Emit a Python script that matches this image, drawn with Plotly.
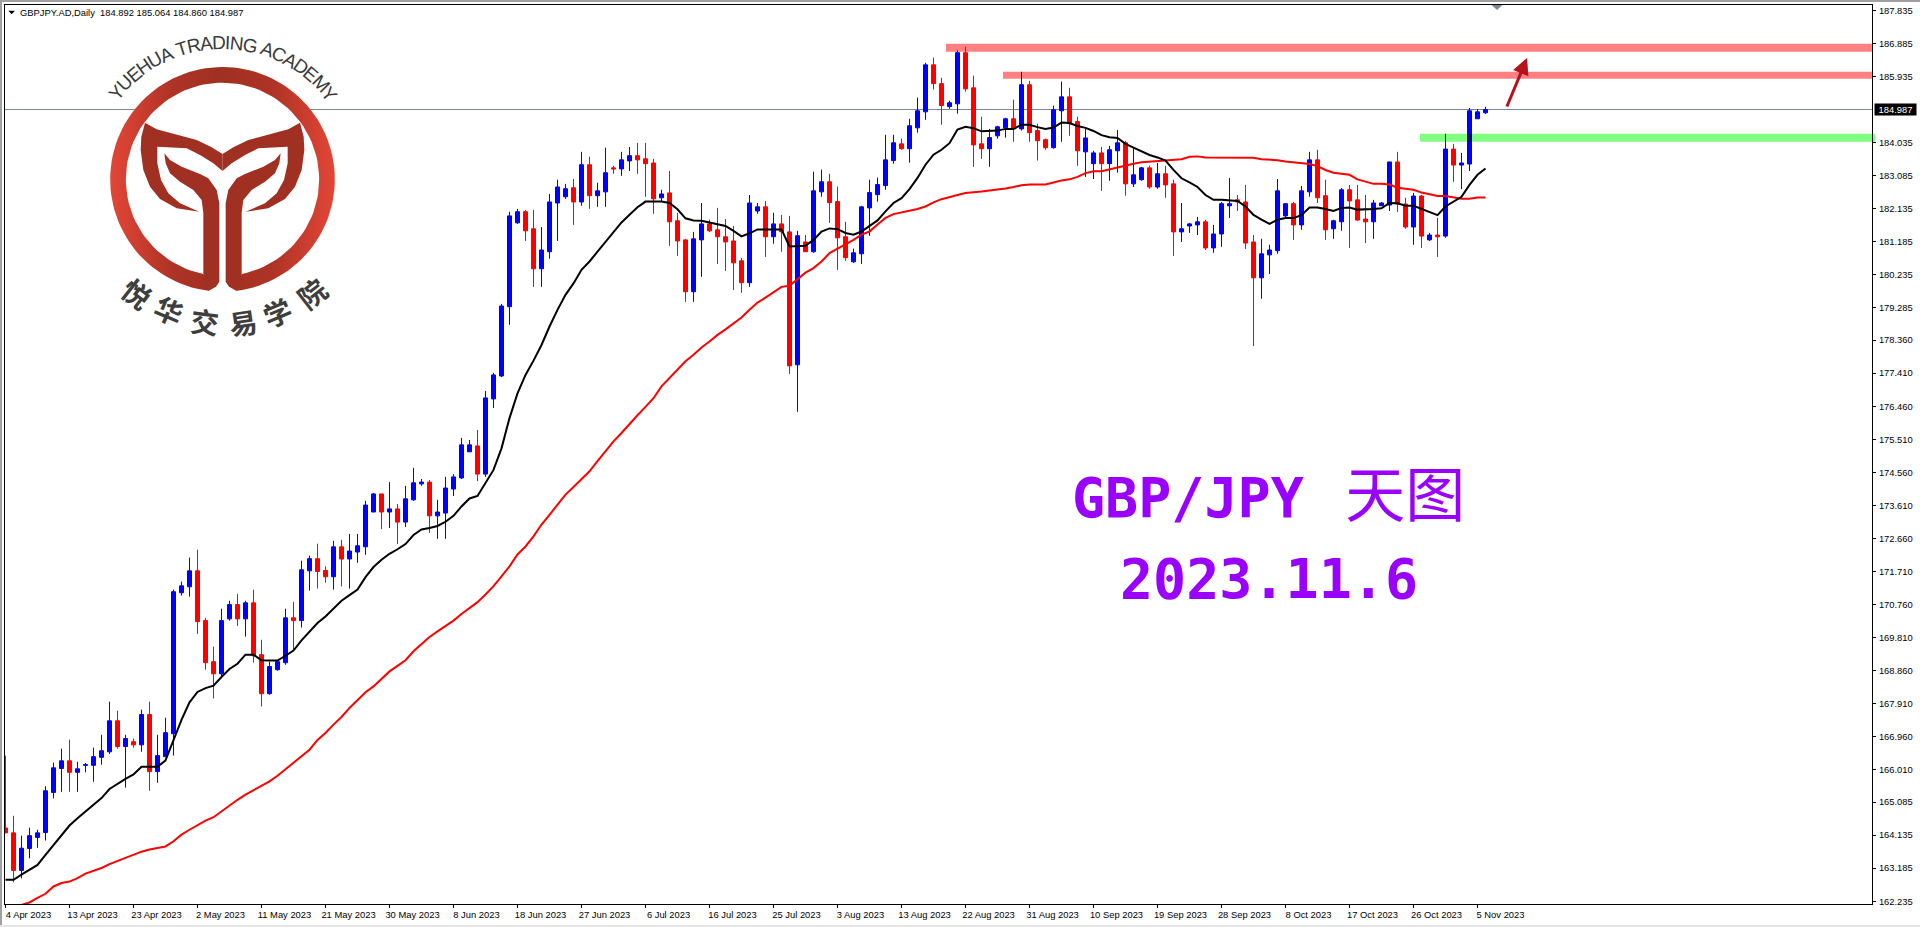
import math
import plotly.graph_objects as go

# ---------- chart data ----------
opens = [164.34,164.20,163.12,163.75,164.07,164.21,165.36,166.05,166.27,165.94,
166.14,166.14,166.37,166.53,167.42,166.68,166.82,166.73,167.60,165.96,
166.39,167.05,171.10,171.27,171.73,170.30,169.12,168.77,170.35,170.76,
170.35,170.81,169.32,168.20,168.89,169.09,170.38,170.30,171.73,172.08,
171.74,171.56,172.42,172.07,172.27,172.42,173.42,173.94,173.42,173.51,
173.13,173.77,174.23,174.28,173.31,173.39,174.08,174.40,175.15,175.32,
174.51,176.67,177.33,179.32,181.73,182.05,181.56,180.41,180.90,182.30,
182.48,182.74,182.33,183.40,182.51,182.62,183.31,183.28,183.51,183.66,
183.57,183.45,182.45,182.59,181.79,181.24,179.75,181.24,181.70,181.53,
181.33,181.21,180.64,180.01,182.07,182.19,181.33,181.70,181.47,177.65,
181.18,180.90,182.62,182.91,182.34,181.33,180.61,180.84,182.16,182.54,
182.80,183.52,184.00,183.86,184.46,184.92,186.27,185.73,185.07,185.15,
186.62,185.61,184.00,183.86,184.23,184.46,184.72,184.43,185.70,184.38,
184.12,183.89,184.95,185.35,184.64,183.77,183.43,183.74,183.43,183.80,
184.03,182.85,182.97,183.31,182.76,183.14,182.85,181.47,181.64,181.67,
181.76,181.01,181.41,182.22,182.39,182.33,181.18,180.15,180.81,180.93,
181.93,182.28,181.67,182.62,183.54,182.51,181.56,181.76,182.68,182.39,
181.84,181.76,182.22,182.24,183.48,182.27,181.61,182.50,181.24,181.38,
181.35,183.85,183.39,183.42,184.72,184.892]
highs = [166.42,164.69,164.12,164.35,164.29,165.54,166.22,166.62,166.88,166.24,
166.21,166.65,167.02,167.97,167.71,167.02,166.91,167.74,167.97,167.02,
167.51,171.19,171.42,172.11,172.34,170.38,169.55,170.64,170.87,171.07,
170.87,171.19,169.75,169.12,169.16,170.64,170.84,172.02,172.17,172.51,
171.86,172.59,172.62,172.79,172.79,173.74,173.97,173.94,174.28,173.65,
174.17,174.69,174.37,174.34,173.77,174.43,174.51,175.55,175.49,175.78,
176.90,177.42,179.40,182.05,182.13,182.10,182.10,181.61,182.56,182.97,
182.85,182.99,183.77,183.63,182.88,183.89,183.37,183.77,183.91,184.03,
184.03,183.57,182.68,183.22,182.02,181.27,181.47,182.30,181.82,182.16,
181.84,181.64,180.72,182.53,182.30,182.36,182.02,181.96,181.93,181.50,
181.38,183.20,183.26,183.14,182.77,181.76,180.99,182.22,182.97,183.03,
184.26,184.26,184.15,184.72,185.33,186.33,186.48,185.90,185.24,186.68,
186.79,185.96,184.78,184.43,184.52,184.75,185.27,186.07,185.81,184.58,
184.15,185.10,185.79,185.61,184.78,184.43,183.80,183.91,183.94,184.40,
184.09,183.89,183.34,183.37,183.45,183.37,182.97,182.30,181.73,181.90,
181.82,181.67,182.33,183.02,182.53,182.82,181.38,181.27,181.10,182.99,
182.30,182.33,182.79,183.77,183.83,182.97,181.82,182.73,182.82,182.82,
182.53,182.39,182.33,183.48,183.77,182.45,182.59,182.53,181.44,181.87,
184.29,184.00,183.74,185.03,185.00,185.064]
lows = [164.20,162.78,162.89,163.47,163.77,163.98,165.19,165.38,165.38,165.38,
165.94,165.67,166.16,166.47,166.62,165.50,166.65,166.53,165.41,165.64,
166.39,166.42,171.02,170.99,169.92,168.89,168.06,168.66,170.30,170.15,
169.84,169.09,167.83,168.17,168.86,169.03,169.46,170.10,171.16,171.22,
171.39,171.19,171.28,171.22,171.96,172.19,173.42,172.93,172.96,172.50,
172.99,173.74,174.17,172.82,172.65,172.65,173.88,174.37,175.15,174.31,
174.43,176.41,177.30,178.80,181.70,181.21,179.89,179.89,180.70,181.21,
182.42,181.67,182.22,182.13,182.19,182.19,183.14,183.08,183.22,183.14,
182.48,181.99,182.33,181.07,180.78,179.46,179.46,180.18,181.47,180.55,
180.35,179.80,179.72,179.89,181.99,180.75,181.13,180.90,177.39,176.30,
180.90,180.87,182.48,181.73,180.38,180.64,180.58,180.55,181.36,182.34,
182.68,183.43,183.83,183.46,184.32,184.69,185.56,184.55,185.01,184.87,
185.50,183.34,183.57,183.34,184.15,184.18,184.06,184.38,184.06,183.52,
183.83,183.86,184.06,184.23,183.37,183.05,182.99,182.65,182.94,183.17,
182.51,182.76,182.94,182.71,182.71,182.45,180.78,181.18,181.44,181.38,
180.95,180.87,181.04,181.87,182.07,180.98,178.19,179.55,180.26,180.84,
181.87,181.24,181.53,182.48,182.30,181.24,181.27,181.50,181.01,181.79,
181.15,181.27,182.22,182.07,182.04,181.56,181.10,181.01,181.21,180.75,
181.30,182.91,182.70,183.22,184.72,184.860]
closes = [164.20,163.12,163.76,164.12,164.20,165.41,166.07,166.27,165.94,166.04,
166.16,166.39,166.56,167.42,166.68,166.91,166.73,167.60,165.96,166.42,
167.08,171.13,171.30,171.73,170.27,169.09,168.77,170.30,170.76,170.35,
170.81,169.29,168.20,168.98,169.12,170.38,170.30,171.76,172.08,171.71,
171.56,172.42,172.07,172.30,172.45,173.62,173.94,173.42,173.51,173.13,
173.80,174.26,174.28,173.31,173.42,174.11,174.43,175.35,175.35,174.51,
176.70,177.36,179.34,181.93,182.05,181.50,180.41,180.95,182.33,182.76,
182.71,182.33,183.40,182.51,182.65,183.17,183.28,183.54,183.66,183.54,
183.43,182.42,182.56,181.76,181.21,179.75,181.27,181.70,181.50,181.33,
181.18,180.58,180.01,182.30,182.19,181.33,181.70,181.47,177.62,181.36,
180.90,182.65,182.91,182.31,181.30,180.73,180.87,182.19,182.60,182.83,
183.54,184.03,183.86,184.52,184.95,186.27,185.73,185.10,185.18,186.62,
185.58,183.97,183.86,184.18,184.49,184.72,184.43,185.70,184.32,184.09,
183.89,184.98,185.35,184.58,183.80,184.17,183.74,183.43,183.83,184.03,
182.85,183.11,183.31,182.76,183.14,182.82,181.47,181.56,181.70,181.76,
181.01,181.41,182.28,182.28,182.33,181.15,180.15,180.84,180.95,182.65,
182.28,181.67,182.65,183.54,182.45,181.53,181.79,182.68,182.36,181.81,
181.76,182.30,182.30,183.48,182.27,181.61,182.50,181.35,181.38,181.33,
183.85,183.39,183.45,184.95,184.92,184.987]
ma_fast = [162.85,162.85,163.00,163.14,163.28,163.57,163.86,164.15,164.41,164.62,
164.82,165.01,165.20,165.46,165.61,165.75,165.88,166.10,166.10,166.10,
166.28,166.88,167.45,167.95,168.25,168.36,168.43,168.68,168.91,169.06,
169.32,169.32,169.16,169.15,169.15,169.29,169.44,169.73,169.99,170.23,
170.42,170.66,170.87,171.03,171.19,171.55,171.84,172.05,172.22,172.35,
172.50,172.76,172.92,172.96,173.02,173.14,173.31,173.58,173.81,173.88,
174.25,174.63,175.25,176.12,176.83,177.36,177.77,178.22,178.75,179.23,
179.66,179.99,180.38,180.62,180.90,181.19,181.48,181.74,181.96,182.18,
182.34,182.34,182.34,182.30,182.12,181.86,181.80,181.79,181.74,181.70,
181.64,181.50,181.34,181.43,181.54,181.54,181.54,181.54,181.05,181.07,
181.07,181.24,181.48,181.57,181.55,181.44,181.39,181.48,181.63,181.80,
182.06,182.30,182.44,182.70,183.02,183.40,183.69,183.83,184.02,184.41,
184.49,184.45,184.36,184.36,184.38,184.43,184.43,184.55,184.55,184.48,
184.43,184.47,184.61,184.60,184.51,184.46,184.37,184.25,184.19,184.17,
184.00,183.89,183.78,183.68,183.61,183.52,183.25,183.01,182.89,182.76,
182.53,182.39,182.39,182.37,182.36,182.20,181.96,181.82,181.70,181.82,
181.87,181.87,181.95,182.17,182.17,182.13,182.07,182.16,182.17,182.11,
182.11,182.13,182.15,182.30,182.29,182.22,182.22,182.13,182.02,181.95,
182.20,182.34,182.48,182.82,183.11,183.29]
ma_slow_start = 2
ma_slow = [162.13,162.20,162.33,162.45,162.66,162.76,162.80,162.90,
163.03,163.10,163.19,163.30,163.39,163.48,163.57,163.66,163.72,163.76,
163.81,163.96,164.15,164.29,164.43,164.55,164.65,164.82,164.98,165.15,
165.30,165.42,165.54,165.68,165.84,166.03,166.21,166.40,166.59,166.87,
167.07,167.31,167.53,167.79,168.03,168.24,168.41,168.62,168.84,169.00,
169.16,169.42,169.63,169.83,169.99,170.14,170.30,170.49,170.66,170.83,
171.05,171.29,171.57,171.86,172.20,172.43,172.72,173.06,173.34,173.63,
173.92,174.14,174.37,174.59,174.88,175.17,175.45,175.69,175.96,176.20,
176.44,176.69,177.03,177.27,177.51,177.75,177.94,178.15,178.32,178.51,
178.67,178.85,179.01,179.23,179.44,179.58,179.73,179.89,179.92,180.12,
180.30,180.43,180.62,180.86,180.98,181.10,181.24,181.39,181.48,181.68,
181.87,181.98,182.03,182.07,182.13,182.20,182.32,182.41,182.46,182.53,
182.59,182.60,182.63,182.66,182.68,182.72,182.76,182.81,182.83,182.83,
182.83,182.89,182.95,182.98,183.05,183.16,183.21,183.21,183.27,183.33,
183.38,183.43,183.47,183.49,183.50,183.54,183.54,183.56,183.63,183.64,
183.61,183.61,183.61,183.61,183.61,183.61,183.60,183.56,183.55,183.53,
183.49,183.47,183.45,183.42,183.36,183.25,183.17,183.15,183.11,182.98,
182.92,182.85,182.85,182.83,182.74,182.71,182.68,182.60,182.55,182.50,
182.50,182.46,182.42,182.42,182.46,182.46]
x_tick_labels = ["4 Apr 2023","13 Apr 2023","23 Apr 2023","2 May 2023","11 May 2023","21 May 2023",
"30 May 2023","8 Jun 2023","18 Jun 2023","27 Jun 2023","6 Jul 2023","16 Jul 2023","25 Jul 2023",
"3 Aug 2023","13 Aug 2023","22 Aug 2023","31 Aug 2023","10 Sep 2023","19 Sep 2023","28 Sep 2023",
"8 Oct 2023","17 Oct 2023","26 Oct 2023","5 Nov 2023"]
y_ticks = [187.835,186.885,185.935,184.035,183.085,182.135,181.185,180.235,179.285,178.360,177.410,
176.460,175.510,174.560,173.610,172.660,171.710,170.760,169.810,168.860,167.910,166.960,166.010,
165.085,164.135,163.185,162.235]
last_price = 184.987
resistance_bands = [(117.56, 186.65, 186.88), (124.69, 185.87, 186.07)]
support_band = (176.81, 184.06, 184.29)
title_text = "GBPJPY.AD,Daily  184.892 185.064 184.860 184.987"

bars = list(range(len(opens)))
UI_FONT = "Liberation Sans"
UI_SIZE = 9.4

fig = go.Figure()
fig.add_trace(go.Candlestick(
    x=bars, open=opens, high=highs, low=lows, close=closes, whiskerwidth=0,
    increasing=dict(line=dict(color="#0000FF", width=1), fillcolor="#0000FF"),
    decreasing=dict(line=dict(color="#FF0000", width=1), fillcolor="#FF0000"),
    showlegend=False, hoverinfo="skip"))
fig.add_trace(go.Scatter(x=list(range(ma_slow_start, len(bars))), y=ma_slow, mode="lines",
                         line=dict(color="#FF0000", width=2), showlegend=False, hoverinfo="skip"))
fig.add_trace(go.Scatter(x=bars, y=ma_fast, mode="lines",
                         line=dict(color="#000000", width=2), showlegend=False, hoverinfo="skip"))

# ---------- decoration drawn in screen pixels on a hidden overlay axis pair ----------
def deco(xs, ys, color=None, gradient=None):
    kw = dict(fillgradient=gradient) if gradient else dict(fillcolor=color)
    fig.add_trace(go.Scatter(x=xs, y=ys, xaxis="x2", yaxis="y2", mode="lines", fill="toself",
                             line=dict(width=0, color="rgba(0,0,0,0)"), showlegend=False,
                             hoverinfo="skip", **kw))

CX, CY = 667.5 / 3, 538 / 3
def Z(points):
    return [p[0] / 3 for p in points], [p[1] / 3 for p in points]
def mirror(points):
    return [(1335 - a, b) for a, b in points]
def arc(r, a0, a1, n=120):
    return [(667.5 + r * math.sin(math.radians(a0 + (a1 - a0) * k / n)),
             538 + r * math.cos(math.radians(a0 + (a1 - a0) * k / n))) for k in range(n + 1)]

# white disc of the logo (hides the price line behind it)
deco(*Z(arc(337, 0, 360)), color="#FFFFFF")
# ring with the horizontal gradient, open at the foot
a_out = math.degrees(math.asin(42.5 / 337))
a_in = math.degrees(math.asin(57.5 / 290))
ring = arc(337, -a_out, -360 + a_out) + arc(290, -360 + a_in, -a_in)
deco(*Z(ring), gradient=dict(type="horizontal", colorscale=[[0, "#E24636"], [0.28, "#AE3326"], [0.5, "#A03021"], [0.72, "#AE3326"], [1, "#E24636"]]))
tail = [(667.5,462),(635,442),(590,420),(530,405),(470,388),(435,368),(424,410),(422,450),(430,510),(450,560),
        (480,597),(530,625),(598,635),(540,610),(505,580),(483,540),(472,490),(472,440),(560,445),(600,465),(640,490),(667.5,513)]
stem = [(493,460),(510,480),(545,500),(600,522),(625,535),(650,570),(658,610),(658,845),(648,860),(625,873),
        (610,850),(610,640),(605,600),(580,570),(540,545),(510,520),(497,490)]
for shape in (tail, mirror(tail), stem, mirror(stem)):
    deco(*Z(shape), color="#A03021")
deco([8.3, 15, 11.6], [10.7, 10.7, 14.3], color="#000000")
deco([1491, 1503, 1497], [4.5, 4.5, 10], color="#778899")

ann = []
# arc text of the logo
arc_chars = "YUEHUA TRADING ACADEMY"
w = dict(Y=.667,U=.722,E=.667,H=.722,A=.667,T=.611,R=.722,D=.722,I=.278,N=.722,G=.778,C=.722,M=.833)
w[" "] = .278
total = sum(w[c] for c in arc_chars)
pos = 0
for ch in arc_chars:
    mid = (pos + w[ch] / 2) / total
    pos += w[ch]
    ang = -53 + 107 * mid
    if ch == " ":
        continue
    px = CX + 137 * math.sin(math.radians(ang))
    py = CY - 137 * math.cos(math.radians(ang))
    ann.append(dict(x=px, y=py, xref="x2", yref="y2", text=ch, showarrow=False, textangle=ang,
                    font=dict(family="Liberation Sans", size=19, color="#3A3A3A")))
for ch, zx, zy, ang in [("悦",410,880,38),("华",507,930,23),("交",615,962,7),("易",730,965,-8.5),("学",832,935,-23),("院",935,880,-38)]:
    ann.append(dict(x=zx/3, y=zy/3, xref="x2", yref="y2", text="<b>"+ch+"</b>", showarrow=False, textangle=ang,
                    font=dict(family="Noto Sans CJK SC", size=28, color="#3E3E3E")))

# headline texts
ann.append(dict(x=1070, y=496, xref="x2", yref="y2", xanchor="left", showarrow=False,
                text='<b>GBP/JPY</b> <span style="font-size:14px">&nbsp;</span><span style="font-size:60px">天图</span>',
                font=dict(family="DejaVu Sans Mono, Noto Sans CJK SC", size=55, color="#9900FF")))
ann.append(dict(x=1269, y=579, xref="x2", yref="y2", showarrow=False, text="<b>2023.11.6</b>",
                font=dict(family="DejaVu Sans Mono", size=55, color="#9900FF")))
# header line
ann.append(dict(x=18, y=12.7, xref="x2", yref="y2", xanchor="left", showarrow=False, text=title_text.replace("  ", "&nbsp;&nbsp;"),
                font=dict(family=UI_FONT, size=UI_SIZE, color="#000000")))
# last-price tag
ann.append(dict(x=(1874 - 5) / 1867, y=last_price, xref="paper", yref="y", xanchor="left", showarrow=False, text=f"{last_price:.3f}",
                bgcolor="#000000", width=41, height=11, borderpad=0, align="center",
                font=dict(family=UI_FONT, size=UI_SIZE, color="#FFFFFF")))
# up arrow
ann.append(dict(x=190.2, y=186.47, ax=187.6, ay=185.03, xref="x", yref="y", axref="x", ayref="y", text="",
                showarrow=True, arrowhead=2, arrowsize=1.1, arrowwidth=3, arrowcolor="#B5121B"))

shapes = []
for x0, y0, y1 in resistance_bands:
    shapes.append(dict(type="rect", xref="x", yref="y", x0=x0, x1=233.3, y0=y0, y1=y1, fillcolor="#FF8080",
                       line=dict(width=0), layer="below"))
shapes.append(dict(type="rect", xref="paper", yref="y", x0=(support_band[0] + 0.0625) * 8 / 1867, x1=(1875 - 5) / 1867,
                   y0=support_band[1], y1=support_band[2], fillcolor="#80FF80", line=dict(width=0), layer="below"))
shapes.append(dict(type="rect", xref="x", yref="y", x0=182.7, x1=183.3, y0=support_band[1], y1=support_band[2],
                   fillcolor="#000080", line=dict(width=0), layer="above"))
shapes.append(dict(type="line", xref="paper", yref="y", x0=0, x1=1, y0=last_price, y1=last_price,
                   line=dict(color="#778899", width=1), layer="below"))
# window edges
shapes.append(dict(type="rect", xref="paper", yref="paper", x0=-5/1867, x1=(1920-5)/1867, y0=(904-0)/899, y1=(904-2)/899,
                   fillcolor="#A0A0A0", line=dict(width=0)))
shapes.append(dict(type="rect", xref="paper", yref="paper", x0=-5/1867, x1=-3/1867, y0=-23/899, y1=904/899,
                   fillcolor="#A0A0A0", line=dict(width=0)))
shapes.append(dict(type="rect", xref="paper", yref="paper", x0=-5/1867, x1=(1920-5)/1867, y0=(904-927)/899, y1=(904-925)/899,
                   fillcolor="#E4E4E4", line=dict(width=0)))

fig.update_layout(
    width=1920, height=927, autosize=False,
    margin=dict(l=5, r=48, t=5, b=23, pad=0),
    paper_bgcolor="#FFFFFF", plot_bgcolor="#FFFFFF",
    boxgap=0.5, boxgroupgap=0,
    showlegend=False,
    annotations=ann, shapes=shapes,
    font=dict(family=UI_FONT, size=UI_SIZE, color="#000000"),
    xaxis=dict(range=[-0.0625, 233.3125], rangeslider=dict(visible=False), tickmode="array",
               tickvals=list(range(0, 8 * len(x_tick_labels), 8)), ticktext=x_tick_labels,
               showgrid=False, zeroline=False, showline=True, mirror=True, linecolor="#000000", linewidth=1,
               ticks="outside", ticklen=3, tickcolor="#000000", tickwidth=1, tickangle=0,
               ticklabelshift=23, ticklabelstandoff=-1, tickfont=dict(family=UI_FONT, size=UI_SIZE)),
    yaxis=dict(range=[162.156, 187.99], side="right", tickmode="array", tickvals=y_ticks,
               ticktext=[f"{v:.3f}" for v in y_ticks],
               showgrid=False, zeroline=False, showline=True, mirror=True, linecolor="#000000", linewidth=1,
               ticks="outside", ticklen=3, tickcolor="#000000", tickwidth=1, ticklabelstandoff=1,
               tickfont=dict(family=UI_FONT, size=UI_SIZE)),
    xaxis2=dict(range=[5, 1872], overlaying="x", visible=False, anchor="y2"),
    yaxis2=dict(range=[904, 5], overlaying="y", visible=False, anchor="x2"),
)
fig.write_html("out.html", config=dict(displayModeBar=False, staticPlot=True),
               post_script="document.body.style.margin='0';document.body.style.overflow='hidden';")
